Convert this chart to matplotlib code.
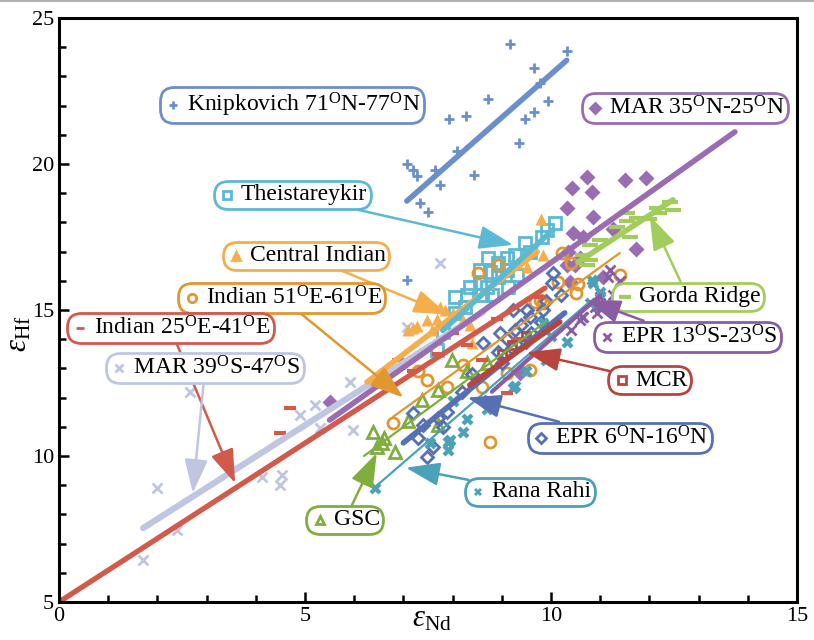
import numpy as np
import matplotlib
matplotlib.use('Agg')
import matplotlib.pyplot as plt
from matplotlib.lines import Line2D
from matplotlib.offsetbox import AnnotationBbox, DrawingArea, TextArea, HPacker
from matplotlib.ticker import MultipleLocator

plt.rcParams['font.family'] = ['Liberation Serif', 'DejaVu Serif']
plt.rcParams['mathtext.fontset'] = 'custom'
plt.rcParams['mathtext.rm'] = 'Liberation Serif'
plt.rcParams['mathtext.it'] = 'Liberation Serif:italic'

# ---------------- data (eNd, eHf) ----------------
knip_x = [9.17, 10.32, 9.65, 9.78, 8.72, 9.94, 9.65, 9.47, 8.27, 7.93, 9.35, 8.09,
          7.07, 7.20, 7.28, 7.64, 8.43, 7.74, 7.34, 7.50, 7.07]
knip_y = [24.11, 23.87, 23.29, 22.77, 22.23, 22.16, 21.78, 21.54, 21.64, 21.54, 20.72, 20.45,
          20.00, 19.79, 19.59, 19.79, 19.62, 19.28, 18.66, 18.36, 16.03]

mar35_x = [10.73, 11.50, 11.93, 10.43, 10.83, 10.33, 10.85, 10.45, 10.65, 11.26, 11.73,
           10.33, 10.49, 10.39, 11.06, 9.37, 5.50, 10.59, 10.35]
mar35_y = [19.55, 19.45, 19.52, 19.18, 19.04, 18.49, 18.18, 17.64, 17.50, 17.77, 17.09,
           16.54, 16.54, 15.96, 16.13, 12.84, 11.85, 16.78, 16.99]

theis_x = [10.08, 9.92, 9.82, 9.47, 9.57, 9.27, 9.11, 8.72, 8.92, 8.56, 8.76, 9.11, 9.31,
           8.92, 8.56, 8.35, 8.70, 9.13, 8.29, 8.60, 8.80, 8.05, 8.25, 8.05, 7.80, 7.68]
theis_y = [17.98, 17.74, 17.50, 17.29, 16.99, 16.88, 16.78, 16.78, 16.61, 16.37, 16.30, 16.37, 16.20,
           16.13, 15.92, 15.79, 15.79, 15.79, 15.51, 15.51, 15.51, 15.45, 15.10, 14.90, 14.25, 13.63]

cind_x = [9.80, 9.84, 9.51, 7.74, 7.84, 7.28, 7.48, 7.68, 7.58, 8.00, 8.21, 8.35, 8.39, 7.10, 7.20, 9.30]
cind_y = [18.12, 16.88, 16.47, 15.10, 15.00, 14.45, 14.66, 14.70, 14.32, 14.90, 14.66, 14.50, 13.87, 14.30, 14.40, 16.60]

gorda_x = [11.54, 11.75, 11.55, 12.15, 12.48, 12.20, 11.60, 10.79, 10.65, 10.79, 10.73, 12.42, 11.34, 11.00, 12.00]
gorda_y = [18.32, 18.15, 18.05, 18.49, 18.42, 18.32, 17.50, 17.23, 16.88, 16.70, 16.54, 18.70, 17.84, 17.40, 18.10]

ind51_x = [8.52, 8.92, 10.14, 10.51, 9.67, 9.84, 11.40, 8.21, 7.89, 8.60, 9.11, 9.57, 8.76,
           7.48, 6.79, 10.22, 10.40, 10.55, 9.78, 7.30]
ind51_y = [16.27, 16.54, 15.96, 15.58, 15.27, 15.25, 16.20, 13.12, 12.36, 12.36, 12.84, 12.95, 10.48,
           12.60, 11.13, 16.95, 16.60, 15.90, 15.34, 12.90]

epr13_x = [11.16, 11.26, 10.65, 11.00, 11.20, 11.00, 10.63, 10.90, 10.59, 10.93, 11.40, 10.40]
epr13_y = [16.13, 15.51, 14.76, 15.24, 16.37, 15.45, 14.76, 15.10, 14.66, 14.90, 16.00, 14.30]

ind25_x = [4.70, 4.49, 9.11, 8.60, 9.78, 7.20, 6.90, 8.30, 7.70, 9.30, 8.00, 8.90]
ind25_y = [11.64, 10.79, 12.16, 13.29, 15.45, 12.90, 13.30, 13.80, 13.50, 14.00, 14.20, 14.70]

mcr_x = [9.20, 9.50, 9.00]
mcr_y = [13.80, 14.10, 13.50]

mar39_x = [2.66, 1.99, 2.40, 1.71, 5.91, 5.20, 4.90, 5.30, 5.98, 4.13, 4.53, 4.49, 7.74, 7.07]
mar39_y = [12.19, 8.90, 7.47, 6.44, 12.53, 11.75, 11.40, 10.96, 10.89, 9.28, 9.35, 9.00, 16.61, 14.42]

epr6_x = [8.62, 8.92, 7.20, 7.40, 7.48, 8.66, 9.23, 7.89, 7.80, 10.04, 10.02, 9.51, 9.84, 8.96, 9.27,
          9.57, 9.10, 9.40, 9.60, 9.20, 9.80, 8.40, 7.60, 7.30, 7.70, 9.00, 9.50, 9.90, 10.20, 8.20]
epr6_y = [13.87, 13.56, 11.47, 11.06, 9.97, 11.85, 15.00, 11.50, 11.00, 16.27, 15.92, 15.00, 15.00, 14.21, 14.30,
          14.75, 14.00, 14.50, 14.20, 13.70, 14.60, 12.80, 10.30, 10.60, 11.30, 13.20, 13.90, 15.30, 15.50, 12.20]

rana_x = [9.27, 8.21, 8.29, 7.91, 7.91, 7.95, 7.54, 9.23, 9.84, 10.33, 6.42, 10.85, 10.79, 11.00,
          10.83, 8.70, 9.50, 8.00, 10.00, 9.90]
rana_y = [12.40, 10.82, 11.27, 10.48, 10.20, 10.55, 10.45, 12.33, 14.55, 13.90, 8.90, 15.92, 15.24, 15.60,
          16.03, 11.60, 12.90, 11.90, 14.10, 13.30]

gsc_x = [7.99, 7.70, 7.38, 8.70, 7.70, 6.83, 6.56, 6.38, 6.46, 6.60, 7.10, 8.30]
gsc_y = [13.29, 12.26, 11.92, 13.18, 11.06, 10.14, 10.45, 10.82, 10.31, 10.60, 11.20, 12.90]

# trend lines: (x0, x1), (y0, y1)
knip_fit = ([7.07, 10.32], [18.73, 23.55])
mar35_fit = ([5.50, 13.74], [11.23, 21.10])
theis_fit = ([7.80, 10.04], [14.30, 17.74])
cind_fit = ([6.26, 9.72], [12.53, 16.99])
gorda_fit = ([10.55, 12.48], [16.64, 18.77])
ind51_fit = ([6.79, 11.40], [11.34, 16.95])
epr13_fit = ([8.80, 11.00], [12.20, 15.50])
ind25_fit = ([0.00, 9.88], [5.00, 15.75])
mcr_fit = ([8.35, 10.18], [12.43, 14.59])
mar39_fit = ([1.71, 8.62], [7.53, 14.93])
epr6_fit = ([7.00, 10.28], [10.45, 14.90])
rana_fit = ([6.40, 10.80], [8.90, 15.30])
gsc_fit = ([6.20, 9.90], [10.00, 14.60])

# ---------------- styles ----------------
c_knip = '#6b8fca'
c_mar35 = '#9a6db3'
c_theis = '#5cb9d3'
c_cind = '#f6ad4c'
c_gorda = '#a2cd5c'
c_ind51 = '#e0972f'
c_epr13 = '#8a5ca4'
c_ind25 = '#d25a4b'
c_mcr = '#b8453d'
c_mar39 = '#c0c6e1'
c_epr6 = '#5670b3'
c_rana = '#4ba1b7'
c_gsc = '#7fae3e'

fig = plt.figure(figsize=(8.14, 6.4), dpi=100)
fig.add_artist(Line2D([0, 1], [0.998, 0.998], color='#b0b0b0', lw=1.5))
ax = fig.add_axes([0.0725, 0.0594, 0.9065, 0.9125])

ms = 7
ax.plot(mar39_x, mar39_y, 'x', color=c_mar39, ms=ms, mew=2, ls='none')
ax.plot(knip_x, knip_y, '+', color=c_knip, ms=ms, mew=2, ls='none')
ax.plot(mar35_x, mar35_y, 'D', color=c_mar35, ms=8, mec='none', ls='none')
ax.plot(gorda_x, gorda_y, '_', color=c_gorda, ms=12, mew=3, ls='none')
ax.plot(theis_x, theis_y, 's', color=c_theis, mfc='none', ms=8, mew=2, ls='none')
ax.plot(cind_x, cind_y, '^', color=c_cind, ms=9, mec='none', ls='none')
ax.plot(ind51_x, ind51_y, 'o', color=c_ind51, mfc='none', ms=8, mew=2, ls='none')
ax.plot(epr13_x, epr13_y, 'x', color=c_epr13, ms=ms, mew=2, ls='none')
ax.plot(gsc_x, gsc_y, '^', color=c_gsc, mfc='none', ms=8, mew=2, ls='none')
ax.plot(epr6_x, epr6_y, 'D', color=c_epr6, mfc='none', ms=6, mew=2, ls='none')
ax.plot(rana_x, rana_y, 'X', color=c_rana, ms=8, mec='none', ls='none')
ax.plot(ind25_x, ind25_y, '_', color=c_ind25, ms=8, mew=3, ls='none')
ax.plot(mcr_x, mcr_y, 's', color=c_mcr, mfc='none', ms=6, mew=2, ls='none')

fits = [(knip_fit, c_knip, 4), (mar39_fit, c_mar39, 4.5), (mar35_fit, c_mar35, 4),
        (cind_fit, c_cind, 4), (theis_fit, c_theis, 4), (gorda_fit, c_gorda, 4),
        (ind51_fit, c_ind51, 1.6), (gsc_fit, c_gsc, 1.6), (rana_fit, c_rana, 1.6),
        (epr6_fit, c_epr6, 4), (epr13_fit, c_epr13, 3), (mcr_fit, c_mcr, 4),
        (ind25_fit, c_ind25, 3.8)]
for (fx, fy), col, lw in fits:
    ax.plot(fx, fy, '-', color=col, lw=lw, solid_capstyle='round')

# ---------------- label boxes ----------------
def label(text, col, marker, center, tip=None, mfill=True, mew=2, msize=6):
    da = DrawingArea(14, 14, 0, 0)
    da.add_artist(Line2D([7], [7], marker=marker, color=col, ms=msize, mew=mew,
                         mfc=col if mfill else 'none', mec=col))
    ta = TextArea(text, textprops=dict(size=17, family='Liberation Serif'))
    pack = HPacker(children=[da, ta], align='center', pad=0, sep=3)
    kw = dict(boxcoords='data', xycoords='data', pad=0.25, frameon=True,
              bboxprops=dict(boxstyle='round,pad=0.25,rounding_size=1.0', ec=col, lw=2, fc='white'))
    if tip is None:
        ab = AnnotationBbox(pack, center, xybox=center, **kw)
    else:
        ab = AnnotationBbox(pack, tip, xybox=center,
                            arrowprops=dict(arrowstyle='-|>,head_length=0.75,head_width=0.26',
                                            color=col, lw=1.8, mutation_scale=20,
                                            shrinkA=0, shrinkB=0), **kw)
    ax.add_artist(ab)

deg = r'$^{\rm O}$'
label('Knipkovich 71' + deg + 'N-77' + deg + 'N', c_knip, '+', (4.74, 22.02))
label('MAR 35' + deg + 'N-25' + deg + 'N', c_mar35, 'D', (12.72, 21.92), msize=5)
label('Theistareykir', c_theis, 's', (4.74, 18.94), tip=(9.23, 17.23), mfill=False)
label('Central Indian', c_cind, '^', (5.02, 16.85), tip=(7.9, 14.85))
label('Indian 51' + deg + 'E-61' + deg + 'E', c_ind51, 'o', (4.53, 15.41), tip=(7.0, 12.0), mfill=False)
label('Indian 25' + deg + 'E-41' + deg + 'E', c_ind25, '_', (2.26, 14.38), tip=(3.58, 9.07))
label('MAR 39' + deg + 'S-47' + deg + 'S', c_mar39, 'x', (2.97, 13.01), tip=(2.72, 8.73))
label('Gorda Ridge', c_gorda, '_', (12.78, 15.45), tip=(12.01, 18.22), msize=9, mew=3)
label('EPR 13' + deg + 'S-23' + deg + 'S', c_epr13, 'x', (12.78, 14.08), tip=(10.73, 15.34))
label('MCR', c_mcr, 's', (12.01, 12.6), tip=(9.5, 13.55), mfill=False)
label('EPR 6' + deg + 'N-16' + deg + 'N', c_epr6, 'D', (11.4, 10.62), tip=(8.3, 12.0), mfill=False, msize=5)
label('Rana Rahi', c_rana, 'X', (9.57, 8.77), tip=(7.05, 9.6), mew=0)
label('GSC', c_gsc, '^', (5.81, 7.81), tip=(6.46, 10.1), mfill=False)

# ---------------- axes ----------------
ax.set_xlim(0, 15)
ax.set_ylim(5, 25)
ax.xaxis.set_major_locator(MultipleLocator(5))
ax.xaxis.set_minor_locator(MultipleLocator(1))
ax.yaxis.set_major_locator(MultipleLocator(5))
ax.yaxis.set_minor_locator(MultipleLocator(1))
ax.tick_params(which='both', direction='in', width=1.8, labelsize=16, top=False, right=False)
ax.tick_params(which='major', length=7)
ax.tick_params(which='minor', length=5)
for s in ax.spines.values():
    s.set_linewidth(2.2)

ax.set_xlabel(r'$\varepsilon_{\rm Nd}$', fontsize=22)
ax.set_ylabel(r'$\varepsilon_{\rm Hf}$', fontsize=22)
ax.xaxis.set_label_coords(0.505, -0.005)
ax.yaxis.set_label_coords(-0.035, 0.46)

fig.savefig('out.png', dpi=100)
